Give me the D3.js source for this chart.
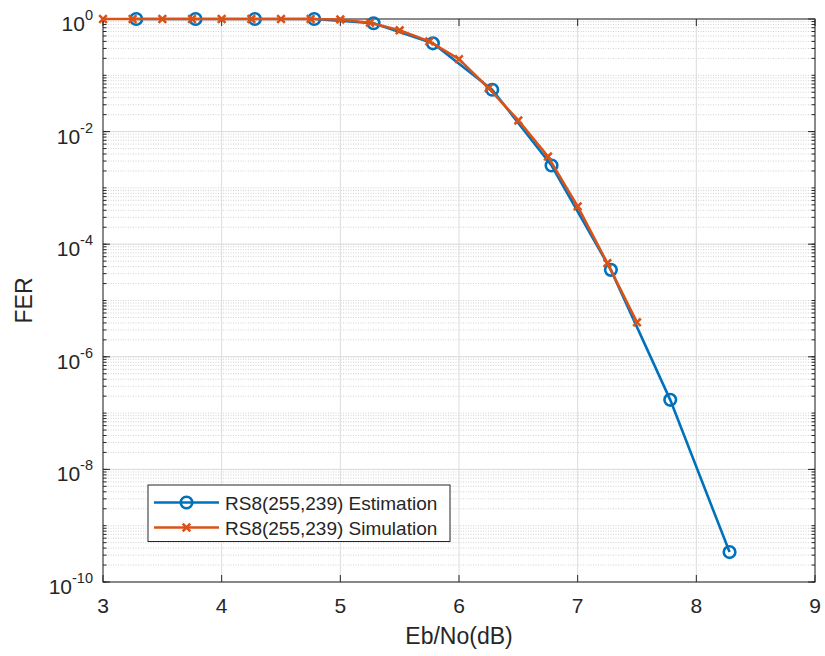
<!DOCTYPE html>
<html>
<head>
<meta charset="utf-8">
<script src="https://cdn.jsdelivr.net/npm/d3@7/dist/d3.min.js"></script>
<style>
  html, body { margin: 0; padding: 0; background: #fff; }
  svg { display: block; font-family: "Liberation Sans", Arial, Helvetica, sans-serif; }
</style>
</head>
<body>
<svg id="chart" width="825" height="656"></svg>
<script>
// Eb/No (dB) sample points and frame error rates
const estX = [3.28, 3.78, 4.28, 4.78, 5.28, 5.78, 6.28, 6.78, 7.28, 7.78, 8.28];
const estFER = [1.0, 1.0, 1.0, 1.0, 0.84, 0.37, 0.0554, 0.0025, 3.5e-5, 1.72e-7, 3.4e-10];

const simX = [3.0, 3.25, 3.5, 3.75, 4.0, 4.25, 4.5, 4.75, 5.0, 5.25, 5.5, 5.75, 6.0, 6.25, 6.5, 6.75, 7.0, 7.25, 7.5];
const simFER = [1.0, 1.0, 1.0, 1.0, 1.0, 1.0, 1.0, 1.0, 0.98, 0.86, 0.63, 0.40, 0.194, 0.059, 0.0158, 0.0036, 4.7e-4, 4.6e-5, 4.1e-6];

const xTicks = [3, 4, 5, 6, 7, 8, 9];
const yTickExp = [0, -2, -4, -6, -8, -10];
const seriesNames = ["RS8(255,239) Estimation", "RS8(255,239) Simulation"];
const seriesColors = ["#0072BD", "#D95319"];

const svg = d3.select("#chart");
const L = 103, R = 815, T = 19, B = 582;
const axisColor = "#262626";

const x = d3.scaleLinear().domain([3, 9]).range([L, R]);
const y = d3.scaleLog().domain([1e-10, 1]).range([B, T]);

const g = svg.append("g");

// grid: minor (dotted) on every 1..9 x 10^k, major (solid) on labelled decades
const minorVals = [];
for (let e = -10; e < 0; e++) {
  for (let m = 1; m <= 9; m++) minorVals.push(m * Math.pow(10, e));
}
g.append("g").selectAll("line").data(minorVals).join("line")
  .attr("x1", L).attr("x2", R)
  .attr("y1", d => y(d)).attr("y2", d => y(d))
  .attr("stroke", "#c8c8c8").attr("stroke-width", 0.8)
  .attr("stroke-dasharray", "1,1.5");

g.append("g").selectAll("line").data(yTickExp.map(e => Math.pow(10, e))).join("line")
  .attr("x1", L).attr("x2", R)
  .attr("y1", d => y(d)).attr("y2", d => y(d))
  .attr("stroke", "#dcdcdc").attr("stroke-width", 1);

g.append("g").selectAll("line").data(xTicks).join("line")
  .attr("x1", d => x(d)).attr("x2", d => x(d))
  .attr("y1", T).attr("y2", B)
  .attr("stroke", "#dcdcdc").attr("stroke-width", 1);

// ticks (inward, on all four sides)
const tk = g.append("g").attr("stroke", axisColor).attr("stroke-width", 1);
xTicks.forEach(d => {
  tk.append("line").attr("x1", x(d)).attr("x2", x(d)).attr("y1", B).attr("y2", B - 7);
  tk.append("line").attr("x1", x(d)).attr("x2", x(d)).attr("y1", T).attr("y2", T + 7);
});
yTickExp.forEach(e => {
  const yy = y(Math.pow(10, e));
  tk.append("line").attr("x1", L).attr("x2", L + 7).attr("y1", yy).attr("y2", yy);
  tk.append("line").attr("x1", R).attr("x2", R - 7).attr("y1", yy).attr("y2", yy);
});
minorVals.forEach(v => {
  const yy = y(v);
  tk.append("line").attr("x1", L).attr("x2", L + 3.5).attr("y1", yy).attr("y2", yy);
  tk.append("line").attr("x1", R).attr("x2", R - 3.5).attr("y1", yy).attr("y2", yy);
});

// axes box
g.append("rect").attr("x", L).attr("y", T).attr("width", R - L).attr("height", B - T)
  .attr("fill", "none").attr("stroke", axisColor).attr("stroke-width", 1);

// tick labels
g.append("g").selectAll("text").data(xTicks).join("text")
  .attr("x", d => x(d)).attr("y", 613)
  .attr("text-anchor", "middle").attr("font-size", 21).attr("fill", axisColor)
  .text(d => d);

const yl = g.append("g").selectAll("text").data(yTickExp).join("text")
  .attr("x", 93).attr("y", e => y(Math.pow(10, e)) + 12)
  .attr("text-anchor", "end").attr("fill", axisColor).attr("font-size", 21);
yl.append("tspan").text("10");
yl.append("tspan").attr("font-size", 14.5).attr("dy", -11).text(e => e);

// axis titles
svg.append("text").attr("x", (L + R) / 2).attr("y", 644)
  .attr("text-anchor", "middle").attr("font-size", 23).attr("fill", axisColor)
  .text("Eb/No(dB)");
svg.append("text").attr("transform", `translate(32,${(T + B) / 2}) rotate(-90)`)
  .attr("text-anchor", "middle").attr("font-size", 23).attr("fill", axisColor)
  .text("FER");

// series
const line = d3.line().x(d => x(d[0])).y(d => y(d[1]));
const estData = estX.map((v, i) => [v, estFER[i]]);
const simData = simX.map((v, i) => [v, simFER[i]]);

const plot = svg.append("g");
plot.append("path").datum(estData).attr("d", line)
  .attr("fill", "none").attr("stroke", seriesColors[0]).attr("stroke-width", 2.6)
  .attr("stroke-linejoin", "round");
plot.append("g").selectAll("circle").data(estData).join("circle")
  .attr("cx", d => x(d[0])).attr("cy", d => y(d[1])).attr("r", 5.8)
  .attr("fill", "none").attr("stroke", seriesColors[0]).attr("stroke-width", 2.6);

plot.append("path").datum(simData).attr("d", line)
  .attr("fill", "none").attr("stroke", seriesColors[1]).attr("stroke-width", 2.6)
  .attr("stroke-linejoin", "round");
const cross = (cx, cy, s) => `M${cx - s},${cy - s}L${cx + s},${cy + s}M${cx - s},${cy + s}L${cx + s},${cy - s}`;
plot.append("g").selectAll("path").data(simData).join("path")
  .attr("d", d => cross(x(d[0]), y(d[1]), 3.8))
  .attr("fill", "none").attr("stroke", seriesColors[1]).attr("stroke-width", 2.6);

// legend
const lg = svg.append("g");
lg.append("rect").attr("x", 148).attr("y", 485).attr("width", 302).attr("height", 56.5)
  .attr("fill", "#fff").attr("stroke", axisColor).attr("stroke-width", 1);
const rows = [502.5, 527.5];
rows.forEach((ry, i) => {
  lg.append("line").attr("x1", 154).attr("x2", 219).attr("y1", ry).attr("y2", ry)
    .attr("stroke", seriesColors[i]).attr("stroke-width", 2.6);
  if (i === 0) {
    lg.append("circle").attr("cx", 186.5).attr("cy", ry).attr("r", 5.8)
      .attr("fill", "none").attr("stroke", seriesColors[0]).attr("stroke-width", 2.6);
  } else {
    lg.append("path").attr("d", cross(186.5, ry, 3.8))
      .attr("fill", "none").attr("stroke", seriesColors[1]).attr("stroke-width", 2.6);
  }
  lg.append("text").attr("x", 225).attr("y", ry + 7)
    .attr("font-size", 19).attr("fill", axisColor).text(seriesNames[i]);
});
</script>
</body>
</html>
